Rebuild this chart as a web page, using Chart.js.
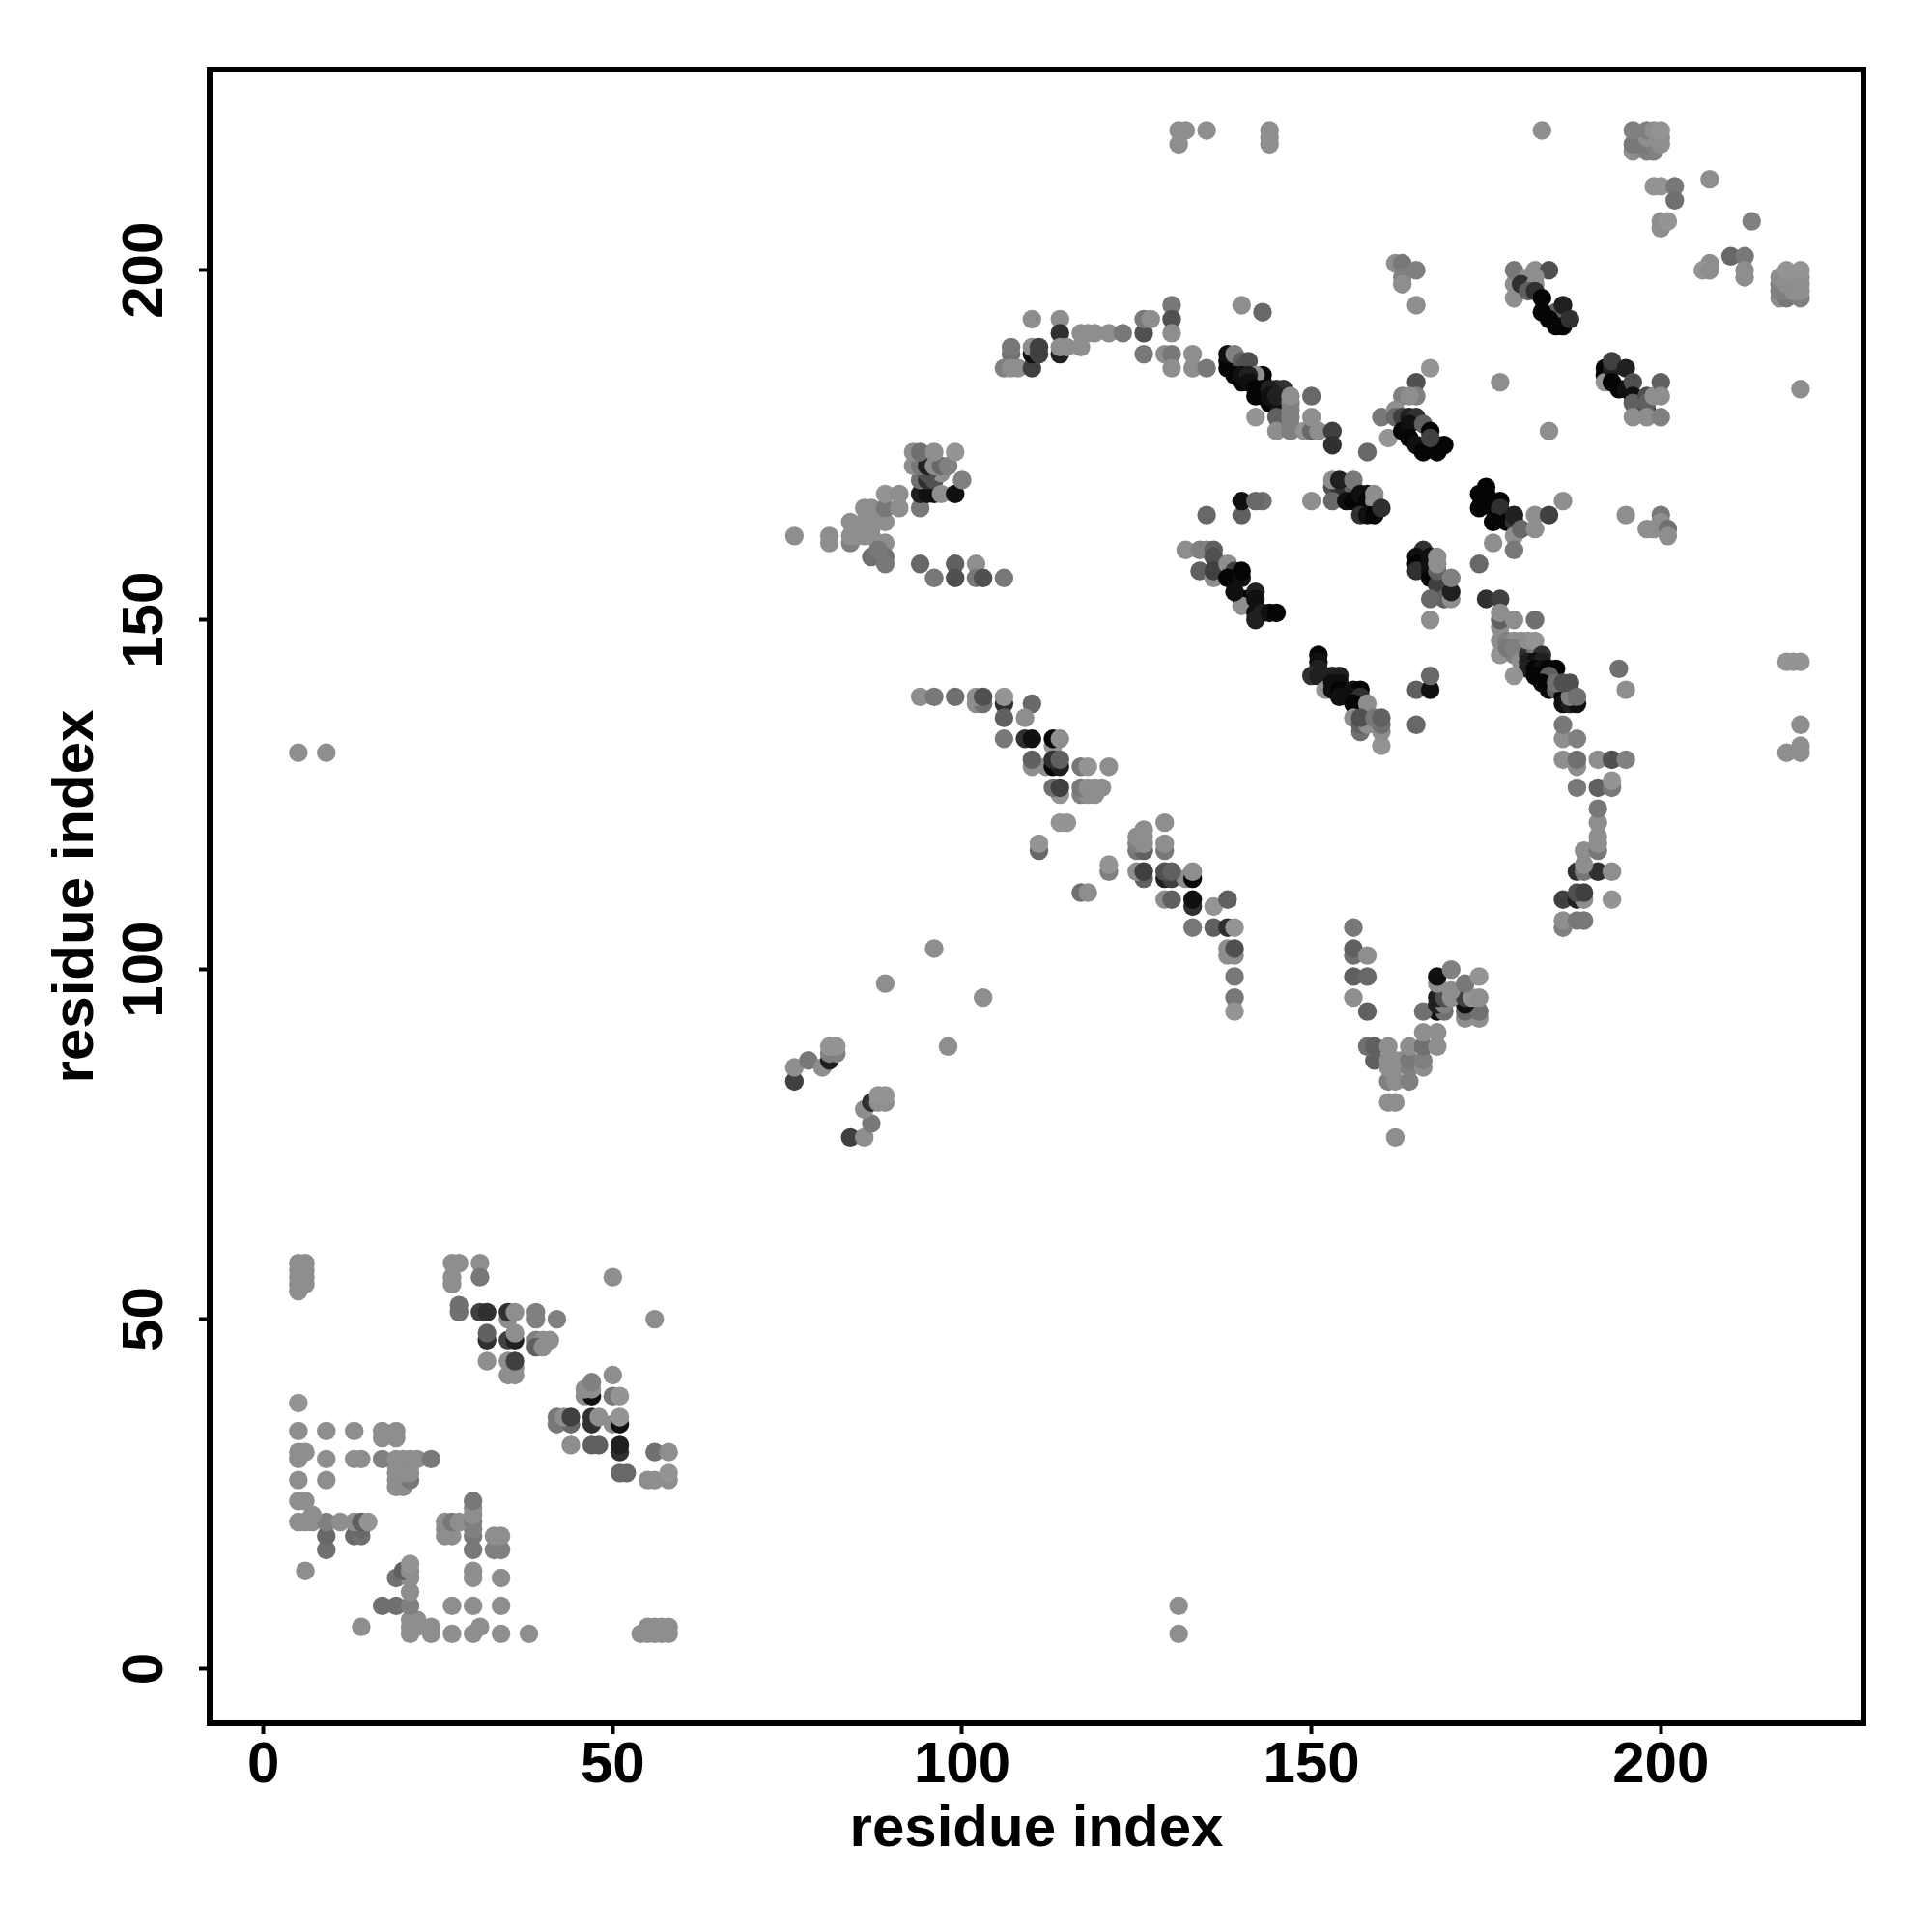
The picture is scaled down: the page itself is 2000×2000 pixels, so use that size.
<!DOCTYPE html>
<html>
<head>
<meta charset="utf-8">
<script src="https://cdn.jsdelivr.net/npm/chart.js@4"></script>
<style>
  html, body { margin: 0; padding: 0; background: #fff; }
  canvas { display: block; }
</style>
</head>
<body>
<canvas id="contactChart" width="2000" height="2000"></canvas>
<script>
const tickValues = [0, 50, 100, 150, 200];
const axisTitle = 'residue index';

// one row per cluster; residueX, residueY and shade line up, painted in this order
const residueX = [
  21,24,27,30,34,38,54,55,56,57,58,14,21,22,24,31,55,56,57,58,21,22,17,19,21,27,30,34,21,19,21,30,34,20,21,30,6,21,
  9,30,33,34,9,13,14,26,27,30,33,34,26,14,30,5,6,7,9,11,13,14,15,26,27,28,30,7,30,30,5,6,30,
  19,20,5,9,19,20,21,19,20,21,19,20,21,5,9,13,14,17,19,20,21,22,24,5,6,17,19,5,9,13,17,19,5,
  5,6,27,28,31,5,6,5,6,27,31,50,5,6,27,5,28,35,39,42,56,28,31,32,35,39,36,32,35,36,39,40,41,32,36,39,40,35,36,36,32,35,36,
  55,56,58,51,52,58,51,56,58,44,47,48,51,42,44,47,50,51,42,43,44,47,48,51,46,47,50,51,46,47,47,50,
  5,9,131,131,
  84,86,87,86,87,88,89,88,89,76,76,78,80,81,81,82,81,82,98,103,89,96,
  102,103,106,110,94,96,99,102,103,106,106,109,113,106,109,110,113,114,110,112,113,114,117,118,121,110,113,114,
  114,117,118,119,113,114,117,118,119,120,114,115,111,111,117,118,121,121,
  125,126,129,125,126,129,125,126,126,129,126,129,130,132,133,125,126,129,130,133,133,136,129,130,133,138,133,136,138,139,138,139,138,139,139,139,139,
  156,156,156,158,156,158,156,158,162,161,162,161,162,164,159,158,159,161,162,163,164,161,162,164,161,164,166,166,166,168,166,168,
  172,174,168,169,166,172,174,168,169,172,168,169,170,172,170,173,174,172,168,168,170,174,
  186,186,188,189,186,188,189,188,189,193,188,189,191,193,189,189,191,191,191,191,191,188,191,193,193,188,186,188,191,193,195,186,188,186,
  151,151,151,150,151,152,153,154,153,154,153,154,156,157,154,156,157,156,158,156,160,160,157,157,158,160,157,159,160,165,165,167,167,
  175,177,177,177,177,179,182,177,177,178,179,179,180,178,179,180,181,180,181,182,181,182,183,181,182,183,181,182,183,184,185,179,182,183,184,183,184,185,186,187,186,186,187,188,187,185,186,187,188,194,195,
  144,144,144,131,131,132,135,183,196,198,199,196,197,198,199,200,198,199,200,196,198,199,200,
  207,199,200,202,202,200,200,201,213,210,212,212,212,207,206,207,
  217,218,220,217,218,219,220,217,218,219,220,217,218,219,220,218,220,220,218,219,220,220,220,218,220,
  162,163,165,163,163,165,143,179,179,179,182,184,181,182,180,182,181,182,185,186,184,183,183,186,185,187,
  192,192,192,193,193,195,193,194,195,196,196,196,198,198,198,196,198,199,200,200,200,
  167,165,165,163,164,160,161,162,162,163,164,165,163,164,166,164,165,167,168,169,166,168,167,158,177,184,
  153,154,156,153,154,156,153,150,143,155,156,157,158,158,159,159,157,158,159,160,
  175,174,175,177,174,176,177,176,178,179,179,179,179,176,180,182,182,184,186,174,
  195,200,198,199,200,201,201,
  166,165,165,166,165,167,167,167,167,168,168,168,168,169,170,170,170,167,167,
  138,138,138,139,140,141,140,140,143,143,142,142,143,143,144,145,145,146,139,140,141,141,142,144,144,145,142,145,145,147,147,147,147,147,147,149,150,151,150,150,153,153,
  132,134,135,136,136,134,136,136,138,139,138,140,140,140,141,140,139,142,142,142,142,143,144,145,135,140,140,142,
  76,81,81,84,84,84,85,86,87,88,89,86,87,86,87,87,86,87,87,89,89,88,89,89,91,89,91,
  94,94,95,96,94,95,96,97,99,100,97,95,93,94,95,96,97,98,93,94,96,99,94,99,102,96,99,102,103,106,
  110,114,114,117,118,119,121,123,126,126,127,130,130,130,140,107,107,106,107,108,110,110,110,111,111,114,114,115,117,126,129,130,133,130,133,135
];
const residueY = [
  5,5,5,5,5,5,5,5,5,5,5,6,6,6,6,6,6,6,6,6,7,7,9,9,9,9,9,9,11,13,13,13,13,14,14,14,14,15,
  17,17,17,17,19,19,19,19,19,19,19,19,20,20,20,21,21,21,21,21,21,21,21,21,21,21,21,22,22,23,24,24,24,
  26,26,27,27,27,27,27,28,28,28,29,29,29,30,30,30,30,30,30,30,30,30,30,31,31,33,33,34,34,34,34,34,38,
  58,58,58,58,58,57,57,56,56,56,56,56,55,55,55,54,52,50,50,50,50,51,51,51,51,51,51,47,47,47,47,47,47,48,48,46,46,42,42,43,44,44,44,
  27,27,27,28,28,28,31,31,31,32,32,32,32,35,35,35,35,35,36,36,36,36,36,36,39,39,39,39,40,40,41,42,
  131,131,9,5,
  76,76,78,80,81,81,81,82,82,84,86,87,86,87,88,88,89,89,89,96,98,103,
  138,138,138,138,139,139,139,139,139,139,136,136,132,133,133,133,133,133,129,129,129,129,129,129,129,130,130,130,
  125,125,125,125,126,126,126,126,126,126,121,121,117,118,111,111,114,115,
  117,117,117,118,118,118,119,119,120,121,113,113,113,113,113,114,114,114,114,114,109,109,110,110,110,110,106,106,106,106,102,102,103,103,99,96,94,
  106,102,103,102,99,99,96,94,76,81,81,84,84,84,87,89,89,86,86,87,86,87,87,87,89,89,86,87,89,89,91,91,
  93,93,94,94,94,94,94,95,95,95,96,96,96,96,97,96,96,98,98,99,100,99,
  106,107,107,107,110,110,110,111,111,110,114,114,114,114,115,117,117,118,119,121,123,126,126,126,127,129,130,130,130,130,130,133,133,135,
  145,144,143,142,142,140,142,142,141,141,140,140,140,140,139,139,139,138,138,136,132,134,134,135,135,135,136,136,136,135,140,140,142,
  153,153,149,150,151,150,150,145,147,147,147,145,147,146,146,146,146,144,145,145,147,147,145,144,144,144,143,143,143,143,143,142,142,142,142,141,140,140,140,140,139,138,138,138,139,141,141,141,139,143,140,
  218,219,220,218,220,220,220,220,217,217,217,218,218,218,218,218,219,219,219,220,220,220,220,
  213,212,212,212,210,206,207,207,207,202,202,199,200,201,200,200,
  196,196,196,197,197,197,197,198,198,198,198,199,199,199,199,200,200,183,144,144,144,135,132,131,131,
  201,201,200,199,198,195,194,196,198,200,200,200,199,199,198,198,197,197,194,192,193,196,194,195,192,193,
  186,185,184,186,187,186,184,183,183,184,182,181,180,182,181,179,179,182,179,184,182,
  186,184,182,182,182,179,176,180,179,179,179,179,177,178,178,176,175,177,175,175,174,174,176,174,184,177,
  169,169,169,170,170,170,167,167,167,167,167,168,168,167,168,167,165,165,165,166,
  169,168,168,167,166,166,166,164,164,164,165,162,160,161,163,163,165,165,167,158,
  165,165,163,163,164,163,162,
  160,159,158,158,157,159,158,157,156,155,157,158,159,153,153,154,156,153,150,
  186,187,188,188,187,187,186,184,185,184,185,182,182,183,181,181,183,183,185,185,185,184,183,183,182,182,179,179,177,177,178,179,180,181,182,177,177,177,179,182,177,175,
  160,160,160,160,159,157,156,157,158,157,156,156,157,153,153,152,154,154,153,151,150,151,151,151,165,165,167,167,
  162,161,162,161,162,164,162,162,162,161,161,163,163,164,164,165,166,166,159,159,158,160,164,166,166,168,168,
  166,168,168,168,170,170,170,168,168,170,171,171,172,172,172,172,172,172,174,174,174,174,158,158,158,156,156,156,156,156,
  193,193,191,191,191,191,191,191,191,193,193,195,193,191,195,188,189,186,186,186,186,188,189,188,189,188,189,189,189,188,188,188,188,186,186,186
];
const shade = [
  142,142,142,142,142,142,142,142,142,142,142,142,142,142,142,142,142,142,142,142,142,142,112,112,128,142,142,142,142,112,142,142,142,96,142,142,142,148,
  112,120,128,128,104,104,112,142,142,120,142,142,142,104,128,142,142,142,128,142,142,96,148,142,120,142,128,142,142,142,142,142,120,
  142,142,142,142,142,142,120,142,142,142,142,142,142,142,142,142,142,128,142,142,142,142,120,142,142,142,142,142,142,142,142,142,148,
  142,142,142,142,142,142,142,142,142,142,120,142,142,142,142,142,112,142,128,128,142,112,64,48,48,128,142,48,64,32,128,142,142,96,142,96,142,142,142,142,142,142,64,
  142,142,142,104,104,148,48,112,142,142,96,96,32,120,104,48,142,16,120,142,64,48,142,148,142,16,120,148,142,142,128,142,
  142,142,142,142,
  64,142,120,142,48,142,142,148,148,64,142,120,142,32,128,128,148,148,142,142,142,142,
  142,112,48,104,142,120,112,142,80,148,96,142,148,120,48,16,5,142,142,142,5,32,120,148,142,96,48,96,
  148,128,142,142,112,64,120,142,142,142,148,148,104,148,112,142,128,148,
  120,96,120,128,142,142,142,142,142,142,96,32,64,142,5,142,64,80,96,142,48,148,142,96,16,96,120,96,48,148,142,142,142,80,120,120,148,
  120,112,96,142,96,104,142,96,142,142,142,128,142,128,96,112,96,142,142,142,128,142,142,120,142,142,142,128,112,142,142,142,
  142,142,16,112,112,104,112,32,128,16,32,80,142,64,142,148,142,120,142,16,128,148,
  128,142,120,120,64,32,142,80,64,148,48,120,48,142,142,142,120,142,142,142,120,120,96,120,148,142,142,112,142,80,128,142,128,120,
  5,16,32,48,32,148,32,32,16,16,16,5,16,5,16,16,48,5,142,142,148,142,112,96,142,112,80,120,96,104,96,16,104,
  48,64,142,96,142,142,112,148,142,128,142,128,142,120,128,128,120,142,48,120,142,148,48,32,16,32,32,5,16,5,5,148,5,5,96,5,5,96,96,96,5,16,32,16,128,112,80,80,112,112,142,
  142,142,142,142,142,142,142,142,142,128,128,120,120,120,128,142,142,142,142,128,128,142,148,
  142,148,148,120,112,142,142,148,128,104,120,142,142,142,148,142,
  142,120,128,128,128,142,142,128,142,142,142,142,142,142,142,148,148,142,148,148,148,142,142,142,142,
  142,120,128,128,142,142,104,142,142,120,142,80,142,142,48,142,96,48,96,5,5,5,5,32,5,48,
  5,5,148,32,64,32,5,5,16,80,16,96,64,80,96,142,142,142,128,96,142,
  148,80,128,128,142,120,148,142,104,64,32,48,5,16,96,5,16,5,96,5,5,5,64,104,142,142,
  80,48,96,142,32,120,104,142,112,16,5,16,16,5,142,142,48,16,5,48,
  5,5,5,5,5,5,48,5,5,48,32,142,120,142,104,142,142,64,142,104,
  142,120,142,142,142,112,142,
  48,16,5,5,48,16,16,16,5,64,96,142,142,96,142,32,128,104,142,
  5,5,16,128,96,80,80,5,5,5,142,5,5,5,5,16,48,48,5,16,32,16,5,32,16,32,148,96,142,128,128,128,128,128,142,148,104,142,142,104,64,48,
  142,128,128,96,80,96,142,64,142,64,5,16,5,5,5,142,16,32,16,16,32,32,16,5,104,96,16,104,
  142,142,142,128,142,142,142,142,142,142,142,142,142,142,142,142,142,142,112,112,120,120,142,120,142,148,142,
  120,32,16,16,112,48,80,142,16,128,142,80,142,120,32,142,104,128,142,112,142,148,104,96,142,120,80,120,80,120,
  142,142,48,142,142,142,142,120,80,120,142,120,80,142,142,112,120,128,142,142,64,16,142,64,64,32,142,142,142,120,142,120,142,142,142,120
];

// box round the plot, the axes only draw ticks and labels
const framePlugin = {
  id: 'frame',
  afterDraw(chart) {
    const { ctx, chartArea: a } = chart;
    ctx.save();
    ctx.strokeStyle = '#000';
    ctx.lineWidth = 6;
    ctx.strokeRect(a.left, a.top, a.right - a.left, a.bottom - a.top);
    ctx.restore();
  }
};

const points = residueX.map((x, i) => ({ x: x, y: residueY[i] }));
const labelFont = { family: '"Liberation Sans"', size: 60, weight: 'bold' };

new Chart(document.getElementById('contactChart').getContext('2d'), {
  type: 'scatter',
  data: {
    datasets: [{
      data: points,
      pointRadius: 9.7,
      pointBorderWidth: 0,
      pointBackgroundColor: shade.map(g => `rgb(${g},${g},${g})`)
    }]
  },
  options: {
    responsive: false,
    animation: false,
    layout: { padding: { top: 72, right: 71, left: 0, bottom: 0 } },
    plugins: { legend: { display: false }, tooltip: { enabled: false } },
    scales: {
      x: {
        type: 'linear',
        min: -7.7,
        max: 229,
        afterBuildTicks: axis => { axis.ticks = tickValues.map(v => ({ value: v })); },
        afterFit: axis => { axis.height = 216; },
        grid: { drawOnChartArea: false, tickLength: 11, tickWidth: 4, tickColor: '#000' },
        border: { display: false },
        ticks: { color: '#000', font: labelFont, padding: -3, maxRotation: 0 },
        title: { display: true, text: axisTitle, color: '#000', font: labelFont, padding: { top: 0, bottom: 70 } }
      },
      y: {
        type: 'linear',
        min: -7.8,
        max: 228.7,
        afterBuildTicks: axis => { axis.ticks = tickValues.map(v => ({ value: v })); },
        afterFit: axis => { axis.width = 217; },
        grid: { drawOnChartArea: false, tickLength: 11, tickWidth: 4, tickColor: '#000' },
        border: { display: false },
        ticks: { color: '#000', font: labelFont, padding: 4, minRotation: 90, maxRotation: 90, crossAlign: 'center' },
        title: { display: true, text: axisTitle, color: '#000', font: labelFont, padding: { top: 43, bottom: 0 } }
      }
    }
  },
  plugins: [framePlugin]
});
</script>
</body>
</html>
